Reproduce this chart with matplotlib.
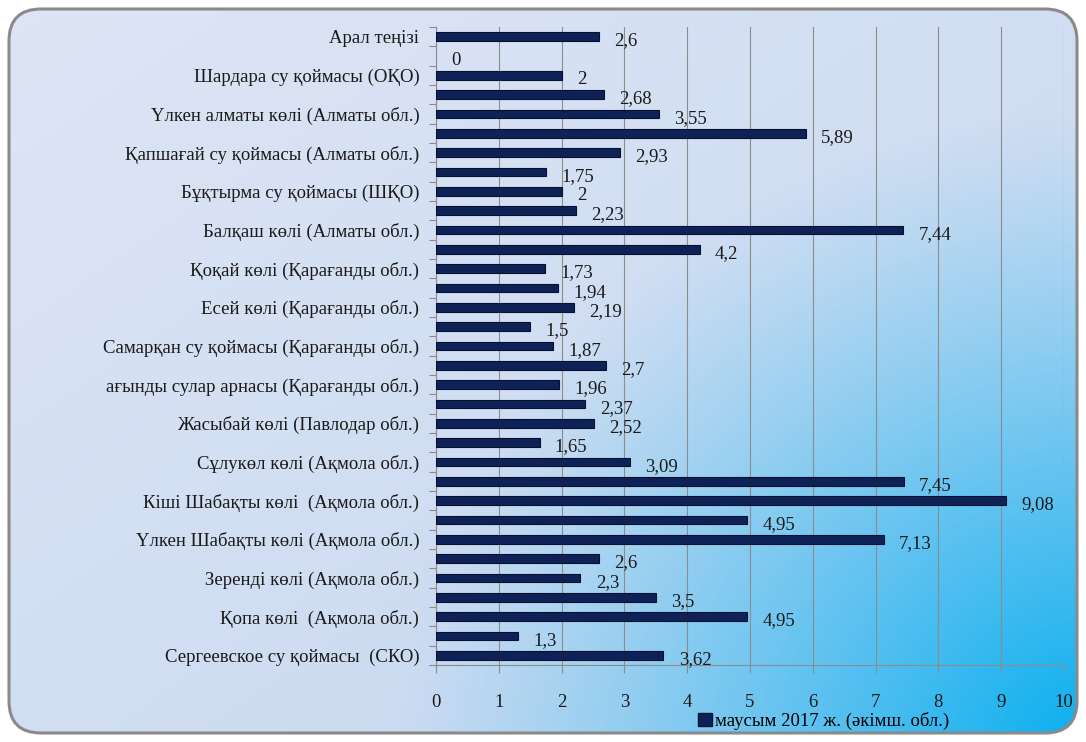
import numpy as np
import matplotlib
matplotlib.use("Agg")
import matplotlib.pyplot as plt
from matplotlib.patches import FancyBboxPatch, Patch

# Water bodies (every other bar carries a name on the axis)
categories = [
    "Арал теңізі", "",
    "Шардара су қоймасы (ОҚО)", "",
    "Үлкен алматы көлі (Алматы обл.)", "",
    "Қапшағай су қоймасы (Алматы обл.)", "",
    "Бұқтырма су қоймасы (ШҚО)", "",
    "Балқаш көлі (Алматы обл.)", "",
    "Қоқай көлі (Қарағанды обл.)", "",
    "Есей көлі (Қарағанды обл.)", "",
    "Самарқан су қоймасы (Қарағанды обл.)", "",
    "ағынды сулар арнасы (Қарағанды обл.)", "",
    "Жасыбай көлі (Павлодар обл.)", "",
    "Сұлукөл көлі (Ақмола обл.)", "",
    "Кіші Шабақты көлі  (Ақмола обл.)", "",
    "Үлкен Шабақты көлі (Ақмола обл.)", "",
    "Зеренді көлі (Ақмола обл.)", "",
    "Қопа көлі  (Ақмола обл.)", "",
    "Сергеевское су қоймасы  (СКО)",
]
values = [2.6, 0, 2, 2.68, 3.55, 5.89, 2.93, 1.75, 2, 2.23, 7.44, 4.2,
          1.73, 1.94, 2.19, 1.5, 1.87, 2.7, 1.96, 2.37, 2.52, 1.65, 3.09,
          7.45, 9.08, 4.95, 7.13, 2.6, 2.3, 3.5, 4.95, 1.3, 3.62]
series_name = "маусым 2017 ж. (әкімш. обл.)"
x_ticks = list(range(0, 11))

W, H = 1086, 742
FS_CAT = 13.5
FS_VAL = 13.5
plt.rcParams["font.family"] = ["Liberation Serif", "DejaVu Serif"]
fig = plt.figure(figsize=(W / 100, H / 100), dpi=100)
fig.patch.set_facecolor("white")

# Background panel: pale blue-grey fading into bright blue at lower right
bg_ax = fig.add_axes([0, 0, 1, 1], zorder=0)
bg_ax.set_axis_off()
yy, xx = np.mgrid[0:H, 0:W].astype(float)
light = np.array([0.87, 0.90, 0.96])
mid = np.array([0.77, 0.84, 0.94])
blue = np.array([0.0, 0.68, 0.94])
diag = np.clip((xx / W + yy / H) / 2.0, 0, 1)[..., None]
base = light * (1 - diag) + mid * diag
d = np.hypot((xx - 1110) / 1.0, (yy - 760) / 0.9)
t = np.clip(1 - d / 720, 0, 1)[..., None] ** 1.15
img = base * (1 - t) + blue * t
im = bg_ax.imshow(img, extent=[0, W, H, 0], aspect="auto")
bg_ax.set_xlim(0, W)
bg_ax.set_ylim(H, 0)
panel = FancyBboxPatch((9, 9), W - 18, H - 18,
                       boxstyle="round,pad=0,rounding_size=32",
                       transform=bg_ax.transData, facecolor="none",
                       edgecolor="#8a8a8a", linewidth=2.2, zorder=3)
bg_ax.add_patch(panel)
im.set_clip_path(panel)

ax = fig.add_axes([436 / W, 1 - 665 / H, (1064 - 436) / W, (665 - 27) / H], zorder=1)
ax.patch.set_alpha(0)

y = np.arange(len(values))
bars = ax.barh(y, values, height=0.44, color="#0e2258", edgecolor="#061030",
               linewidth=0.8, zorder=3)
for b, v in zip(bars, values):
    if v == 0:
        b.set_linewidth(0)
for yi, v in zip(y, values):
    ax.annotate(f"{v:g}".replace(".", ","), (v, yi), xytext=(11, -3),
                textcoords="offset points", va="center", ha="left",
                fontsize=FS_VAL, color="#1a1a1a", zorder=4)

ax.set_xlim(0, 10)
ax.set_ylim(len(values) - 0.5, -0.5)
ax.set_xticks(x_ticks)
ax.set_xticklabels([str(v) for v in x_ticks], fontsize=FS_CAT, color="#1a1a1a")
ax.set_yticks(y)
ax.set_yticklabels(categories, fontsize=FS_CAT, color="#1a1a1a")
ax.set_yticks(np.arange(-0.5, len(values)), minor=True)
ax.tick_params(axis="y", which="major", length=0, pad=12)
ax.tick_params(axis="y", which="minor", length=5, color="#8c8c8c", width=0.8)
ax.tick_params(axis="x", which="major", length=6, color="#8c8c8c", width=0.8, pad=15)
ax.grid(axis="x", color="#8c8c8c", linewidth=0.8, zorder=1)
for s in ["top", "right"]:
    ax.spines[s].set_visible(False)
for s in ["left", "bottom"]:
    ax.spines[s].set_color("#8c8c8c")
    ax.spines[s].set_linewidth(0.8)

fig.legend(handles=[Patch(facecolor="#0e2258", edgecolor="#061030", label=series_name)],
           loc="center", bbox_to_anchor=(824 / W, 1 - 721 / H), frameon=False,
           fontsize=FS_CAT, handlelength=0.7, handleheight=0.7, handletextpad=0.2,
           borderpad=0)

fig.savefig("out.png", dpi=100, facecolor="white")
